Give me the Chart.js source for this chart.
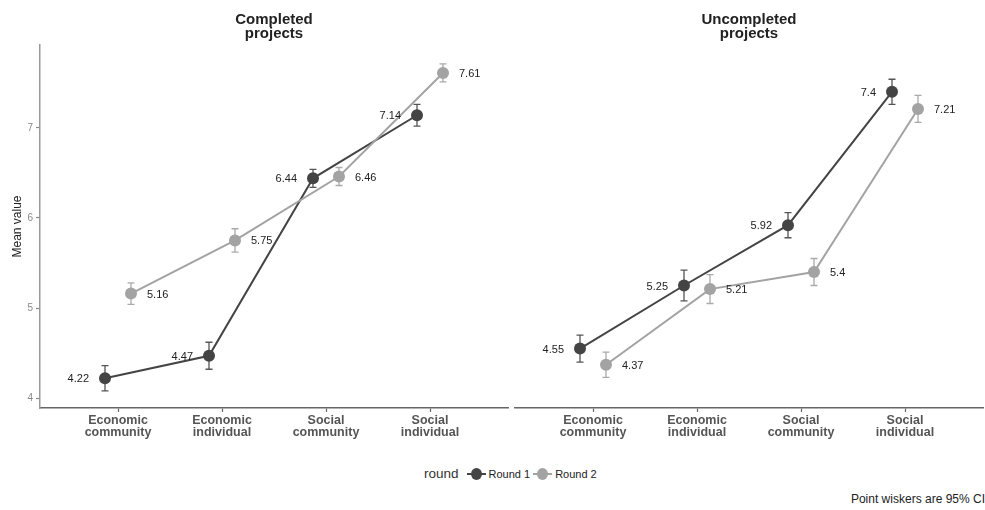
<!DOCTYPE html>
<html>
<head>
<meta charset="utf-8">
<script src="https://cdn.jsdelivr.net/npm/chart.js@4.4.1/dist/chart.umd.min.js"></script>
<style>
  body { margin: 0; background: #fff; font-family: Arial, "Liberation Sans", sans-serif; }
  #wrap { position: relative; width: 985px; height: 510px; overflow: hidden; }
  canvas { position: absolute; top: 0; }
  #leftChart { left: 0; }
  #rightChart { left: 510px; }
  #legend { position: absolute; left: 424px; top: 466px; font-size: 11px; color: #222; white-space: nowrap; display: flex; align-items: center; }
  #legend .title { font-size: 13.5px; margin-right: 8px; color: #333; }
  #legend .key { position: relative; display: inline-block; width: 19px; height: 12px; margin-right: 3px; }
  #legend .key .ln { position: absolute; left: 0; top: 5px; width: 19px; height: 2px; }
  #legend .key .dot { position: absolute; left: 4px; top: 0; width: 11px; height: 12px; border-radius: 50%; }
  #legend .lab { margin-right: 3px; }
  #caption { position: absolute; right: 0; top: 492px; font-size: 12px; color: #222; white-space: nowrap; }
</style>
</head>
<body>
<div id="wrap">
  <canvas id="leftChart" width="510" height="450"></canvas>
  <canvas id="rightChart" width="475" height="450"></canvas>
  <div id="legend"><span class="title">round</span><span class="key"><span class="ln" style="background:#444"></span><span class="dot" style="background:#444"></span></span><span class="lab">Round 1</span><span class="key"><span class="ln" style="background:#a3a3a3"></span><span class="dot" style="background:#a3a3a3"></span></span><span class="lab">Round 2</span></div>
  <div id="caption">Point wiskers are 95% CI</div>
</div>
<script>
// categories and values
const categories = [["Economic", "community"], ["Economic", "individual"], ["Social", "community"], ["Social", "individual"]];
const yTicks = [4, 5, 6, 7];

// completed projects
const completedRound1 = [4.22, 4.47, 6.44, 7.14];
const completedRound1CI = [0.14, 0.15, 0.10, 0.12];
const completedRound2 = [5.16, 5.75, 6.46, 7.61];
const completedRound2CI = [0.12, 0.13, 0.10, 0.10];

// uncompleted projects
const uncompletedRound1 = [4.55, 5.25, 5.92, 7.4];
const uncompletedRound1CI = [0.15, 0.17, 0.14, 0.14];
const uncompletedRound2 = [4.37, 5.21, 5.4, 7.21];
const uncompletedRound2CI = [0.14, 0.16, 0.15, 0.15];

const DARK = "#444444";
const LIGHT = "#a3a3a3";
const DODGE = 0.125;

function makeDataset(label, values, ci, color, shift, order) {
  return {
    label: label,
    data: values.map((v, i) => ({ x: i + shift, y: v })),
    ci: ci,
    labelSide: shift < 0 ? "left" : "right",
    borderColor: color,
    backgroundColor: color,
    pointBackgroundColor: color,
    pointBorderWidth: 0,
    pointRadius: 6,
    borderWidth: 2,
    showLine: true,
    tension: 0,
    order: order
  };
}

// whiskers
const errorBars = {
  id: "errorBars",
  beforeDatasetsDraw(chart) {
    const ctx = chart.ctx;
    const yScale = chart.scales.y;
    chart.data.datasets.forEach((ds, di) => {
      const meta = chart.getDatasetMeta(di);
      ctx.save();
      ctx.strokeStyle = ds.labelSide === "left" ? "#555" : "#aaa";
      ctx.lineWidth = 1.3;
      meta.data.forEach((pt, i) => {
        const v = ds.data[i].y;
        const top = yScale.getPixelForValue(v + ds.ci[i]);
        const bot = yScale.getPixelForValue(v - ds.ci[i]);
        ctx.beginPath();
        ctx.moveTo(pt.x, top); ctx.lineTo(pt.x, bot);
        ctx.moveTo(pt.x - 3.5, top); ctx.lineTo(pt.x + 3.5, top);
        ctx.moveTo(pt.x - 3.5, bot); ctx.lineTo(pt.x + 3.5, bot);
        ctx.stroke();
      });
      ctx.restore();
    });
  }
};

// value labels next to points
const valueLabels = {
  id: "valueLabels",
  afterDatasetsDraw(chart) {
    const ctx = chart.ctx;
    ctx.save();
    ctx.font = "11px Arial, 'Liberation Sans', sans-serif";
    ctx.fillStyle = "#222";
    ctx.textBaseline = "middle";
    chart.data.datasets.forEach((ds, di) => {
      const meta = chart.getDatasetMeta(di);
      meta.data.forEach((pt, i) => {
        const txt = String(ds.data[i].y);
        if (ds.labelSide === "left") {
          ctx.textAlign = "right";
          ctx.fillText(txt, pt.x - 16, pt.y + 1);
        } else {
          ctx.textAlign = "left";
          ctx.fillText(txt, pt.x + 16, pt.y + 1);
        }
      });
    });
    ctx.restore();
  }
};

// panel titles centred on the plot area
const panelTitle = {
  id: "panelTitle",
  afterDraw(chart, args, opts) {
    const ctx = chart.ctx;
    const cx = (chart.chartArea.left + chart.chartArea.right) / 2;
    ctx.save();
    ctx.font = "bold 15px Arial, 'Liberation Sans', sans-serif";
    ctx.fillStyle = "#222";
    ctx.textAlign = "center";
    ctx.textBaseline = "alphabetic";
    opts.lines.forEach((l, i) => ctx.fillText(l, cx, 24 + i * 14));
    ctx.restore();
  }
};

function makeOptions(titleLines, showY, padLeft, padRight) {
  return {
    responsive: false,
    animation: false,
    layout: { autoPadding: false, padding: { top: 45, right: padRight, left: padLeft, bottom: 0 } },
    plugins: {
      legend: { display: false },
      tooltip: { enabled: false },
      panelTitle: { lines: titleLines }
    },
    scales: {
      x: {
        type: "linear",
        min: -0.75,
        max: 3.75,
        afterBuildTicks: s => { s.ticks = categories.map((c, i) => ({ value: i })); },
        afterFit: s => { s.height = 42; },
        ticks: {
          autoSkip: false,
          maxRotation: 0,
          padding: 3,
          color: "#555",
          font: { family: "Arial, 'Liberation Sans', sans-serif", size: 12.5, weight: "bold", lineHeight: 0.95 },
          callback: v => categories[v]
        },
        grid: { drawOnChartArea: false, drawTicks: true, tickLength: 4, tickColor: "#666", tickWidth: 1.2 },
        border: { display: true, color: "#666", width: 1.5 }
      },
      y: {
        display: showY,
        min: 3.89,
        max: 7.92,
        afterBuildTicks: s => { s.ticks = yTicks.map(v => ({ value: v })); },
        afterFit: s => { s.width = showY ? 40 : 0; },
        ticks: {
          padding: 3,
          color: "#888",
          font: { family: "Arial, 'Liberation Sans', sans-serif", size: 10 }
        },
        grid: { drawOnChartArea: false, drawTicks: true, tickLength: 4, tickColor: "#888", tickWidth: 1.2 },
        border: { display: true, color: "#999", width: 1.5 },
        title: {
          display: true,
          text: "Mean value",
          color: "#222",
          padding: { top: 10, bottom: 0 },
          font: { family: "Arial, 'Liberation Sans', sans-serif", size: 12 }
        }
      }
    }
  };
}

new Chart(document.getElementById("leftChart"), {
  type: "scatter",
  data: {
    datasets: [
      makeDataset("Round 1", completedRound1, completedRound1CI, DARK, -DODGE, 2),
      makeDataset("Round 2", completedRound2, completedRound2CI, LIGHT, DODGE, 1)
    ]
  },
  options: makeOptions(["Completed", "projects"], true, 0, 2),
  plugins: [errorBars, valueLabels, panelTitle]
});

new Chart(document.getElementById("rightChart"), {
  type: "scatter",
  data: {
    datasets: [
      makeDataset("Round 1", uncompletedRound1, uncompletedRound1CI, DARK, -DODGE, 2),
      makeDataset("Round 2", uncompletedRound2, uncompletedRound2CI, LIGHT, DODGE, 1)
    ]
  },
  options: makeOptions(["Uncompleted", "projects"], false, 5, 2),
  plugins: [errorBars, valueLabels, panelTitle]
});
</script>
</body>
</html>
